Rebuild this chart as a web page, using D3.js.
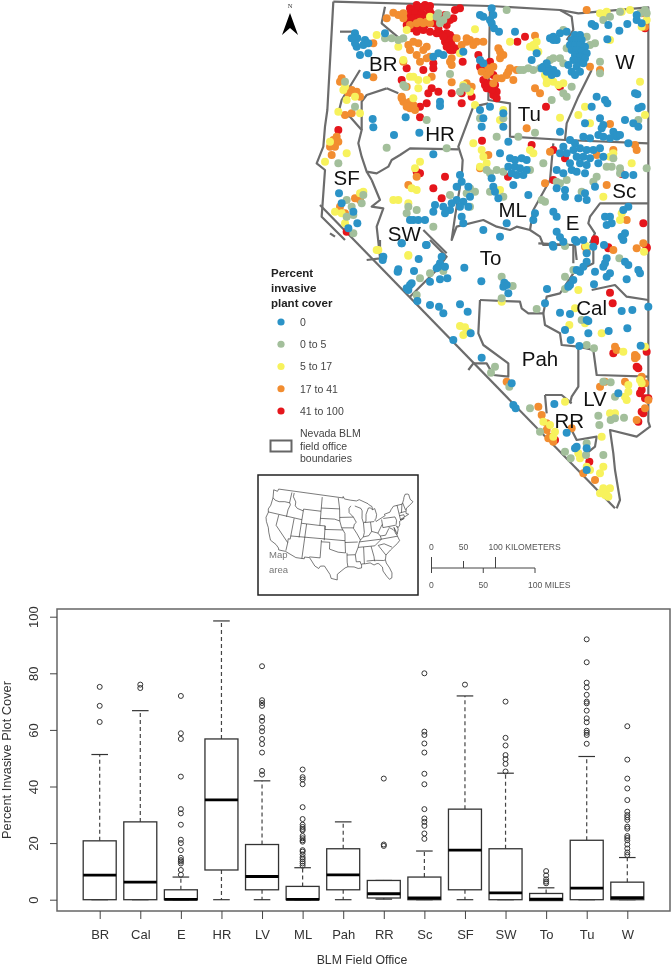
<!DOCTYPE html>
<html><head><meta charset="utf-8">
<script src="https://cdnjs.cloudflare.com/ajax/libs/d3/7.8.5/d3.min.js"></script>
<style>html,body{margin:0;padding:0;background:#fff}svg{display:block;filter:blur(0.35px)}text{font-family:"Liberation Sans",Arial,sans-serif}</style>
</head><body><svg id="c" width="672" height="967"></svg>
<script>
// ---------- box plot data ----------
const offices=["BR","Cal","E","HR","LV","ML","Pah","RR","Sc","SF","SW","To","Tu","W"];
const whiskerLow=[0,0,0,0,0,0,0,0.2,0,0,0,0,0,0];
const quartile1=[0,0,0,10.5,3.5,0,3.5,0.6,0,3.5,0,-0.3,0,0];
const medians=[8.7,6.2,0.1,35.3,8.2,0.1,8.8,2.1,0.6,17.5,2.4,0.2,4.1,0.7];
const quartile3=[20.8,27.5,3.5,56.8,19.5,4.7,18,6.8,8,32,18,2.2,21,6.2];
const whiskerHigh=[51.3,66.8,8,98.5,42,11.3,27.5,6.8,17.2,72,44.7,4.2,50.6,14.9];
const outliers=[
[62.8,68.5,75.2],
[74.8,76],
[8.8,10.5,12.8,13.5,14,14.8,17.5,20,21.2,26.5,30.5,32,43.5,56.8,58.8,72],
[],
[44.2,45.5,52,55,56.8,59.5,60.8,63.2,64.5,68.5,69.5,70.5,82.5],
[12,12.8,13.5,14.3,15,16,17,17.5,20.5,21,21.7,22.5,24.5,25,25.7,26.5,28.5,32.7,40.8,42.5,43.3,46],
[],
[19,19.5,42.8],
[21.5,23.4,26.1,27.5,28.7,32,40.8,44.5,52,55.2,58.2,59.4,80],
[76],
[45.3,48,49.7,51.1,54.5,57.2,70],
[5.8,6.4,7.2,8.6,10.1],
[55.1,58.2,59,59.7,62.7,64.1,66.8,69.4,70,72.4,75,76.7,83.9,92],
[15.8,16.7,18.1,19.5,21,21.8,22.5,25.1,25.8,28.2,29.1,29.9,31.1,35.2,39.3,42.8,49.5,61.3]];
const yTicks=[0,20,40,60,80,100];
// ---------- map data: north sheet units and south sheet units ----------
const blueN=[[630,45],[640,50],[665,25],[670,45],[660,60],[665,70],[672,85],[687,95],[255,100],[262,115],[285,120],[345,100],[260,140],[270,165],[255,130],[280,135],[295,130],[245,115],[290,225],[295,160],[308,357],[310,382],[372,405],[407,352],[448,398],[510,305],[510,318],[630,180],[640,190],[580,155],[520,165],[505,160],[490,170],[735,95],[850,110],[870,100],[860,120],[890,95],[915,105],[930,105],[905,120],[920,120],[935,120],[900,135],[915,135],[930,135],[945,140],[905,150],[920,150],[935,155],[950,160],[915,165],[930,170],[945,175],[925,185],[910,180],[940,190],[920,200],[905,215],[915,225],[930,215],[895,195],[840,115],[850,120],[820,200],[835,205],[850,210],[830,215],[845,225],[860,220],[785,180],[800,160],[830,190],[815,205],[965,72],[975,78],[1015,75],[1072,72],[1048,92],[1012,118],[1100,60],[1115,70],[1100,45],[1095,280],[1102,283],[980,290],[1005,300],[1012,310],[990,355],[1000,375],[1030,395],[995,385],[1040,405],[1065,360],[1090,370],[1105,325],[1115,320],[1105,380],[965,320],[945,370],[870,395],[900,420],[915,430],[940,410],[960,415],[985,405],[1000,410],[1040,410],[1050,405],[1075,430],[1020,415],[880,440],[870,460],[890,460],[910,450],[930,445],[950,450],[970,450],[920,470],[940,470],[960,475],[990,445],[1000,470],[900,490],[930,490],[950,495],[985,490],[905,510],[920,515],[945,520],[880,520],[860,510],[860,565],[885,570],[885,590],[925,595],[945,580],[975,560],[950,600],[1065,525],[1090,525],[1075,620],[1060,630],[1005,650],[1020,650],[1025,670],[1010,675],[1065,700],[1055,710],[1060,720],[850,635],[860,650],[795,640],[790,660],[860,695],[870,712],[880,725],[940,720],[970,740],[850,740],[915,720],[720,475],[735,480],[755,475],[770,480],[715,500],[735,500],[750,505],[770,510],[725,520],[740,525],[760,525],[690,460],[665,535],[670,560],[675,575],[685,595],[730,555],[775,585],[630,330],[640,355],[635,380],[660,320],[700,340],[700,380],[715,425],[710,670],[690,710],[640,690],[490,463],[570,525],[575,545],[560,560],[595,560],[600,590],[560,600],[580,605],[545,610],[520,620],[495,615],[540,630],[525,640],[575,650],[595,620],[580,670],[570,620],[490,635],[430,660],[445,660],[465,660],[420,660],[340,770],[470,735],[515,770],[395,730],[207,580],[215,610],[250,635],[262,670],[235,685]];
const blueS=[[188,60],[235,88],[233,95],[282,93],[296,57],[318,15],[245,10],[360,70],[355,80],[350,85],[375,80],[382,115],[360,118],[330,125],[270,135],[260,145],[265,150],[275,130],[433,83],[484,124],[553,128],[560,135],[565,160],[550,140],[292,183],[330,195],[357,200],[370,220],[420,193],[443,215],[452,280],[400,300],[485,353],[575,430],[580,495],[587,505],[675,190],[681,147],[698,15],[770,5],[800,40],[770,90],[780,95],[790,80],[800,65],[760,120],[750,135],[745,140],[825,95],[822,133],[850,80],[855,70],[870,100],[860,110],[860,55],[915,65],[925,75],[955,90],[960,100],[920,118],[852,15],[720,218],[750,222],[800,240],[805,243],[735,270],[752,300],[778,318],[805,280],[866,273],[922,265],[905,213],[937,210],[985,200],[962,317],[703,492],[740,578],[770,620],[800,625],[765,625],[895,460],[800,690]];
const greenN=[[710,30],[505,40],[530,45],[520,60],[500,50],[510,70],[400,115],[385,120],[365,115],[345,115],[540,222],[580,260],[590,265],[225,245],[255,320],[405,260],[400,255],[570,275],[680,410],[795,398],[530,445],[350,443],[470,360],[630,355],[700,355],[760,210],[775,205],[750,210],[790,210],[810,205],[880,90],[870,175],[880,190],[850,175],[840,180],[890,145],[1020,50],[1050,35],[1125,30],[1110,40],[1130,40],[1000,60],[990,185],[990,220],[950,110],[960,135],[975,130],[1105,360],[905,260],[880,280],[890,290],[845,300],[1130,505],[1010,500],[1025,500],[980,530],[970,545],[935,575],[890,540],[870,550],[860,545],[1050,505],[1050,520],[1030,475],[745,410],[680,510],[700,515],[660,520],[650,510],[660,575],[780,510],[820,490],[700,590],[825,605],[815,600],[600,565],[615,575],[590,580],[540,585],[600,620],[415,620],[440,630],[410,640],[490,680],[250,700],[280,585],[230,600],[245,620],[230,650],[250,645],[275,610],[205,490]];
const greenS=[[735,18],[898,55],[735,147],[545,175],[545,110],[578,138],[300,115],[330,100],[370,93],[290,165],[650,207],[785,240],[800,315],[822,325],[525,380],[513,398],[568,440],[630,505],[660,575],[735,635],[752,655],[850,645],[798,645],[835,527],[838,555],[872,540],[885,535],[912,533],[850,425],[872,427],[885,470],[800,610],[760,90],[735,110]];
const yellowN=[[615,88],[480,50],[320,105],[385,140],[570,160],[420,230],[400,180],[445,240],[470,240],[580,255],[600,275],[800,125],[795,145],[780,140],[825,225],[850,245],[840,240],[865,255],[410,90],[450,485],[435,505],[440,570],[425,565],[385,600],[370,600],[415,610],[220,270],[230,300],[205,335],[270,340],[225,260],[255,290],[1110,245],[870,353],[945,320],[925,345],[960,370],[1125,345],[1020,120],[990,40],[1000,50],[1010,35],[1055,35],[1080,30],[1115,80],[1130,60],[790,135],[805,155],[720,125],[830,235],[830,250],[615,315],[700,330],[690,360],[610,430],[635,450],[640,470],[650,490],[630,500],[780,450],[790,460],[1020,470],[1030,460],[1085,490],[1000,590],[1055,640],[1050,660],[690,570],[320,750],[415,765],[880,250],[430,295],[445,265],[430,230],[180,425],[230,460],[165,485],[215,640],[195,635],[225,670],[270,580],[280,575]];
const yellowS=[[175,30],[265,47],[798,18],[972,35],[775,150],[420,258],[435,262],[430,285],[445,275],[748,255],[795,250],[845,280],[765,205],[545,185],[910,335],[975,320],[735,485],[925,435],[925,455],[915,470],[960,420],[965,430],[870,520],[885,520],[705,575],[700,590],[690,555],[670,545],[845,590],[775,640],[780,655],[800,680],[850,680],[840,700],[850,745],[860,750],[855,765],[865,770],[840,760],[870,745],[810,690],[920,480]];
const orangeN=[[370,38],[400,55],[385,45],[400,40],[440,70],[450,65],[470,65],[445,130],[460,150],[400,185],[590,125],[600,120],[610,135],[470,175],[480,170],[545,175],[590,250],[655,205],[660,215],[680,235],[695,235],[715,215],[690,175],[685,145],[395,290],[400,305],[420,305],[420,325],[435,330],[245,270],[235,280],[270,290],[420,75],[460,70],[350,55],[480,70],[590,115],[560,115],[620,125],[640,125],[575,135],[540,185],[545,195],[415,135],[430,125],[420,150],[440,165],[470,140],[450,185],[410,260],[395,295],[410,320],[430,315],[225,345],[245,340],[215,235],[210,245],[260,275],[310,232],[310,130],[485,230],[545,247],[605,260],[635,215],[650,225],[670,200],[690,155],[700,165],[720,205],[740,210],[730,240],[710,225],[670,250],[795,265],[810,280],[795,107],[770,385],[1020,372],[960,200],[990,210],[950,30],[1115,40],[1125,80],[840,455],[1100,450],[1095,435],[1030,450],[980,465],[1010,555],[825,550],[655,465],[630,505],[415,555],[440,530],[200,410],[205,425],[190,420],[180,440],[195,440],[185,465],[255,595],[270,600],[210,620],[225,640],[1070,660],[1100,745],[945,740],[950,755]];
const orangeS=[[970,10],[880,30],[885,320],[890,330],[945,345],[945,355],[950,350],[855,425],[840,440],[915,425],[560,425],[655,500],[665,525],[680,550],[680,570],[690,590],[700,605],[685,595],[755,565],[790,700],[825,720],[975,430],[985,480],[975,505],[950,540],[965,410]];
const redN=[[420,25],[440,15],[465,15],[480,18],[415,55],[450,75],[465,75],[490,70],[420,70],[435,75],[500,100],[510,100],[540,105],[550,115],[525,125],[550,150],[555,145],[630,200],[635,210],[650,210],[645,255],[660,265],[675,255],[680,275],[670,285],[430,30],[445,25],[460,20],[475,25],[420,40],[435,40],[455,40],[470,45],[430,55],[445,55],[460,55],[480,35],[490,45],[410,75],[425,85],[440,95],[460,90],[480,95],[505,85],[530,75],[510,60],[525,45],[540,60],[550,55],[555,30],[570,25],[530,100],[535,120],[545,135],[540,150],[530,140],[520,110],[490,190],[490,205],[460,210],[410,205],[395,240],[485,265],[475,280],[505,275],[545,280],[575,280],[605,290],[575,310],[450,320],[470,310],[450,352],[578,185],[625,165],[660,185],[665,200],[640,240],[655,250],[650,265],[665,270],[680,295],[670,225],[742,125],[765,110],[828,320],[636,422],[205,390],[714,530],[850,540],[1055,522],[885,475],[785,435],[850,450],[1120,670],[1130,745],[975,718],[1015,745],[440,515],[450,520],[525,530],[490,565],[515,595],[870,260],[230,695],[1125,85]];
const redS=[[980,22],[825,5],[865,22],[870,158],[878,190],[880,340],[950,380],[955,385],[980,335],[965,450],[975,475],[960,460],[985,475],[965,515],[970,520],[955,545],[808,665],[705,600]];
const boundariesN=[
[[190,5],[660,18],[870,30],[925,40],[1135,22],[1135,720]],
[[190,5],[172,330],[165,380],[160,440],[140,490],[165,510],[155,650],[225,720]],
[[345,20],[335,70],[400,125]],[[210,95],[260,95]],
[[205,340],[240,350],[275,390],[265,430],[275,470],[290,515],[320,520],[355,500],[365,480],[390,465],[420,445],[565,448]],
[[350,265],[290,285],[275,305],[275,390]],[[350,265],[385,280]],[[205,340],[215,300],[270,210]],
[[610,320],[565,440],[578,480],[575,530],[555,650],[545,720],[560,680],[640,660],[680,680],[720,690],[740,680],[780,690]],
[[610,320],[655,310]],[[660,20],[655,300],[720,310],[720,410],[885,420],[1135,430]],
[[870,30],[905,50],[910,90],[890,120]],[[965,210],[925,290],[890,370],[885,420]],
[[850,430],[840,540],[790,630],[780,690],[810,710],[820,735],[915,735],[920,780]],
[[1135,610],[990,610],[960,650],[955,670],[975,700],[960,730]],
[[305,540],[330,600],[305,620],[340,625],[320,680],[330,770]],[[290,515],[305,540]],
[[460,690],[530,760]],[[180,700],[195,710]]];
const boundariesS=[
[[0,-105],[885,805]],
[[985,0],[985,545],[990,560],[950,590],[870,570],[880,640],[885,690],[900,780],[890,805]],
[[180,0],[180,55],[140,60]],[[330,0],[380,50],[350,90],[270,170]],
[[480,180],[600,185],[605,205],[625,220],[670,220],[675,255],[720,280],[725,315],[775,320],[775,440],[755,470],[750,490]],
[[480,180],[475,280],[490,315],[565,370],[565,410],[520,405],[500,370],[460,370],[445,390]],
[[675,465],[725,465],[755,490]],[[675,465],[680,520]],
[[750,560],[770,600],[830,590],[825,620],[800,640]],
[[670,220],[680,170],[720,160],[760,100],[820,70],[820,0]],[[815,150],[885,135],[920,170],[985,180]],
[[775,320],[820,330],[830,405],[985,410]],[[655,10],[760,15],[760,70]]];
const mapLabelsN=[["BR",340,190],["HR",510,400],["Tu",778,340],["W",1065,185],["SF",230,532],["Sc",1063,572],["ML",728,630],["E",908,667],["SW",403,700]];
const mapLabelsS=[["To",512,52],["Cal",815,203],["Pah",660,355],["LV",825,475],["RR",748,543]];
const legendLabels=["0","0 to 5","5 to 17","17 to 41","41 to 100"];
const legendColors=["#2b93c7","#a3bf9b","#f7f25c","#f28d30","#e5161c"];
const legendTitle=["Percent","invasive","plant cover"];
const legendBoundary=["Nevada BLM","field office","boundaries"];
const kmTicks=[0,50,100], mileTicks=[0,50,100];
// US inset, lon/lat
const usOutline=[[-124.7,48.4],[-123,48.3],[-122.8,49],[-95.2,49],[-95.1,49.4],[-94.6,48.7],[-92,48.3],[-89.6,48],[-88.4,48.3],[-84.9,46.9],[-84.5,46.5],[-83.5,46],[-83.4,45.1],[-82.5,45.3],[-82.1,43.6],[-82.5,42.6],[-83.1,42.1],[-82.7,41.7],[-78.9,42.9],[-79.1,43.3],[-76.8,43.6],[-76.2,44.2],[-75,45],[-71.5,45],[-71.1,45.3],[-70.3,46.2],[-70,46.7],[-69.2,47.45],[-68.3,47.35],[-67.8,47.1],[-67.8,45.7],[-67,44.8],[-69,44],[-70.2,43.6],[-70.7,42.7],[-70.9,42.2],[-70,41.8],[-71.2,41.5],[-73.7,40.9],[-72,41],[-74,40.5],[-74.2,39.5],[-75,38.9],[-75.5,39.5],[-75.1,38.5],[-75.9,37.1],[-76.2,38.5],[-76.5,39.2],[-76.4,37.5],[-76,36.9],[-75.5,35.3],[-76.5,34.6],[-77.9,33.9],[-79.2,33.2],[-81,32],[-81.4,30.7],[-81.3,29.8],[-80.5,28.3],[-80,26.8],[-80.3,25.4],[-81.1,25.1],[-81.8,26.1],[-82.7,27.7],[-82.7,28.8],[-83.7,29.9],[-84.3,30],[-85.3,29.7],[-86.5,30.4],[-88,30.3],[-89.3,30.3],[-89.4,29.2],[-90.5,29.1],[-91.8,29.6],[-93.8,29.7],[-94.7,29.4],[-96,28.5],[-97.2,27.6],[-97.2,26],[-99.1,26.4],[-99.5,27.5],[-101.4,29.8],[-102.7,29.7],[-103.2,29],[-104.5,29.6],[-106.5,31.8],[-108.2,31.8],[-108.2,31.3],[-111,31.3],[-114.8,32.5],[-117.1,32.5],[-117.3,33],[-118.4,33.8],[-120.6,34.6],[-121.9,36.6],[-122.5,37.8],[-123.8,39.3],[-124.4,40.4],[-124.1,41.9],[-124.5,42.8],[-124,44],[-124,46.2],[-124.7,48.4]];
const usBorders=[[[-124,46.2],[-122.9,45.7],[-121.2,45.6],[-119,46],[-116.9,46]],[[-117,49],[-117,46]],[[-116.9,46],[-116.5,45.5],[-117,44],[-117,42]],[[-124.2,42],[-111,42]],[[-116,49],[-116,47.9],[-114.6,46.6],[-114.5,45.5],[-113.5,44.9],[-111,44.5]],[[-111,45],[-104,45],[-104,41],[-111,41],[-111,45]],[[-104,49],[-104,45]],[[-104,45.9],[-96.6,45.9]],[[-104,43],[-98.5,43],[-96.5,42.5]],[[-104,41],[-102,41],[-102,40]],[[-114,42],[-114,37]],[[-111,41],[-111,37]],[[-109,41],[-109,37]],[[-102,41],[-102,37]],[[-102,40],[-95.3,40]],[[-120,42],[-120,39],[-114.6,35]],[[-114,37],[-114,36.1],[-114.7,36.1],[-114.6,35],[-114.7,32.7]],[[-114,37],[-94.6,37]],[[-109,37],[-109,31.3]],[[-103,37],[-103,32],[-106.6,32]],[[-103,36.5],[-100,36.5],[-100,34.6],[-97,33.8],[-94.5,33.6]],[[-94.6,37],[-94.5,33.6]],[[-94,33.6],[-94,31],[-93.8,29.7]],[[-94,33],[-91.2,33]],[[-91.2,33],[-91,31],[-89.7,31],[-89.5,30.2]],[[-91.2,33],[-90.1,35],[-89.5,36.5],[-89.1,37],[-90.2,38.8],[-91.4,40.4],[-91,41.5],[-90.2,42],[-91.2,43.5],[-92.8,44.8],[-92.8,46],[-92,46.7]],[[-96.5,43.5],[-91.2,43.5]],[[-96.6,45.9],[-96.8,47],[-97.2,49]],[[-96.6,45.9],[-96.5,42.5]],[[-95.8,40.6],[-91.4,40.5]],[[-96.5,42.5],[-95.8,40.6],[-95.3,40],[-94.6,39],[-94.6,37]],[[-94.6,36.5],[-90.1,36.5]],[[-90.1,35],[-84.3,35],[-81.7,36.6]],[[-89.5,36.5],[-81.7,36.6],[-75.9,36.6]],[[-88.2,35],[-88.4,30.3]],[[-85.6,35],[-85,32],[-85,31],[-84.9,30.7]],[[-87.6,31],[-85,31],[-82,30.6],[-81.5,30.7]],[[-83.1,35],[-81,32]],[[-83.1,35],[-81,35.2],[-78.5,33.9]],[[-87.5,41.7],[-87.5,39],[-88,37.8]],[[-84.8,41.7],[-84.8,39.1]],[[-89.1,37],[-88,37.8],[-86,38],[-84.8,39.1],[-82.6,38.4],[-80.6,40.6]],[[-82.6,38.4],[-81.9,37.5],[-81.7,36.6]],[[-81.9,37.5],[-80,37.5],[-78.4,39.2]],[[-80.5,42],[-80.5,39.7],[-75.7,39.7]],[[-79.8,42.2],[-75.3,42],[-75,41],[-75.5,39.8]],[[-78.4,39.5],[-77,38.7],[-76.4,38]],[[-73.5,45],[-73.5,41]],[[-73.5,42.05],[-71.8,42]],[[-71.8,42],[-71.8,41.4]],[[-71.5,45],[-72.5,42.75]],[[-73.3,42.75],[-70.8,42.8]],[[-71.1,45.3],[-70.7,43.1]],[[-90.4,46.6],[-88,45.8],[-87.6,45.1],[-87.9,43],[-87.5,41.7],[-86.5,42],[-86.2,44],[-85,45.7],[-84.3,45.7],[-83.4,45.1]],[[-87,41.75],[-83.4,41.73]]];

// ---------- scales ----------
const svg=d3.select("#c");
const xN=d3.scaleLinear().domain([0,1206]).range([270,672]);
const yN=d3.scaleLinear().domain([0,780]).range([0,260]);
const xS=d3.scaleLinear().domain([0,1056]).range([320,672]);
const yS=d3.scaleLinear().domain([0,840]).range([240,520]);
const pN=d=>[xN(d[0]),yN(d[1])], pS=d=>[xS(d[0]),yS(d[1])];
const line=d3.line();

// ---------- map ----------
const gMap=svg.append("g");
gMap.selectAll("path.b").data(boundariesN.map(l=>l.map(pN)).concat(boundariesS.map(l=>l.map(pS)))).join("path")
 .attr("d",line).attr("fill","none").attr("stroke","#6c6c6c").attr("stroke-width",2.2).attr("stroke-linejoin","round");
const classes=[[redN,redS,4],[orangeN,orangeS,3],[yellowN,yellowS,2],[greenN,greenS,1],[blueN,blueS,0]];
classes.forEach(([n,s,ci])=>{
 gMap.append("g").attr("fill",legendColors[ci]).selectAll("circle").data(n.map(pN).concat(s.map(pS))).join("circle")
  .attr("cx",d=>d[0]).attr("cy",d=>d[1]).attr("r",4);
});
gMap.selectAll("text.lab").data(mapLabelsN.map(d=>[d[0],...pN([d[1],d[2]])]).concat(mapLabelsS.map(d=>[d[0],...pS([d[1],d[2]])]))).join("text")
 .attr("x",d=>d[1]).attr("y",d=>d[2]).attr("dy","0.36em").attr("text-anchor","middle").attr("font-size",20.5).attr("fill","#111").text(d=>d[0]);

// north arrow
const arrow=svg.append("g");
arrow.append("path").attr("d",line([[290,13],[298,35],[290,28],[282,35]])+"Z").attr("fill","#000");
arrow.append("text").attr("x",290).attr("y",8).attr("text-anchor","middle").attr("font-size",6.5).attr("fill","#333").style("font-family","Liberation Serif").text("N");

// ---------- legend ----------
const leg=svg.append("g");
leg.selectAll("text.t").data(legendTitle).join("text").attr("x",271).attr("y",(d,i)=>277+i*15)
 .attr("font-size",11.5).attr("font-weight","bold").attr("fill","#222").text(d=>d);
const legY=d3.scalePoint().domain(legendLabels).range([322,411]);
leg.selectAll("circle").data(legendLabels).join("circle").attr("cx",281).attr("cy",d=>legY(d)).attr("r",3.6).attr("fill",(d,i)=>legendColors[i]);
leg.selectAll("text.l").data(legendLabels).join("text").attr("x",300).attr("y",d=>legY(d)).attr("dy","0.36em")
 .attr("font-size",10.5).attr("fill","#444").text(d=>d);
leg.append("rect").attr("x",270.5).attr("y",440.5).attr("width",21).attr("height",11).attr("fill","none").attr("stroke","#666").attr("stroke-width",2);
leg.selectAll("text.n").data(legendBoundary).join("text").attr("x",300).attr("y",(d,i)=>437+i*12.5)
 .attr("font-size",10.5).attr("fill","#444").text(d=>d);

// ---------- inset ----------
const inset=svg.append("g");
inset.append("rect").attr("x",258).attr("y",475).attr("width",160).attr("height",120).attr("fill","#fff").attr("stroke","#222").attr("stroke-width",1.5);
const usGeo={type:"MultiLineString",coordinates:[usOutline].concat(usBorders)};
const proj=d3.geoConicEqualArea().parallels([29.5,45.5]).rotate([96,0]).center([0,37.5]).fitExtent([[266,488],[413,581]],{type:"LineString",coordinates:usOutline});
inset.append("path").attr("d",d3.geoPath(proj)(usGeo)).attr("fill","none").attr("stroke","#222").attr("stroke-width",0.6);
inset.selectAll("text").data(["Map","area"]).join("text").attr("x",269).attr("y",(d,i)=>558+i*14.5).attr("font-size",9.5).attr("fill","#777").text(d=>d);

// ---------- scale bar ----------
const sb=svg.append("g");
const kmS=d3.scaleLinear().domain([0,100]).range([431.5,495.5]);
const miS=d3.scaleLinear().domain([0,100]).range([431.5,535]);
sb.append("line").attr("x1",431.5).attr("x2",535).attr("y1",568).attr("y2",568).attr("stroke","#444").attr("stroke-width",1);
sb.selectAll("line.k").data(kmTicks).join("line").attr("x1",d=>kmS(d)).attr("x2",d=>kmS(d)).attr("y1",568).attr("y2",d=>d===50?561:557).attr("stroke","#444");
sb.append("g").selectAll("line").data(mileTicks).join("line").attr("x1",d=>miS(d)).attr("x2",d=>miS(d)).attr("y1",568).attr("y2",573).attr("stroke","#444");
sb.append("g").selectAll("text").data(kmTicks).join("text").attr("x",d=>kmS(d)).attr("y",550).attr("text-anchor",d=>d===100?"start":"middle").attr("dx",d=>d===100?-7:0)
 .attr("font-size",8.6).attr("fill","#555").text(d=>d===100?"100 KILOMETERS":d);
sb.append("g").selectAll("text").data(mileTicks).join("text").attr("x",d=>miS(d)).attr("y",588).attr("text-anchor",d=>d===100?"start":"middle").attr("dx",d=>d===100?-7:0)
 .attr("font-size",8.6).attr("fill","#555").text(d=>d===100?"100 MILES":d);

// ---------- box plot ----------
const x=d3.scalePoint().domain(offices).range([99.7,627.3]);
const y=d3.scaleLinear().domain([0,100]).range([899.7,616.7]);
const gb=svg.append("g");
gb.append("rect").attr("x",57).attr("y",609).attr("width",613).attr("height",302).attr("fill","none").attr("stroke","#666").attr("stroke-width",1.5);
const gy=gb.append("g").attr("transform","translate(57,0)").call(d3.axisLeft(y).tickValues(yTicks).tickSize(7).tickFormat(d3.format("d")));
gy.select(".domain").remove();
gy.selectAll("line").attr("stroke","#444");
gy.selectAll("text").attr("x",null).attr("dy",null).attr("text-anchor","middle").attr("transform","translate(-19,0) rotate(-90)")
 .attr("font-size",13).attr("fill","#333").style("font-family","Liberation Sans");
const gx=gb.append("g").attr("transform","translate(0,911)").call(d3.axisBottom(x).tickSize(8).tickPadding(11));
gx.select(".domain").remove();
gx.selectAll("line").attr("stroke","#444");
gx.selectAll("text").attr("font-size",13).attr("fill","#333").style("font-family","Liberation Sans");
const rows=offices.map((o,i)=>({o,lo:whiskerLow[i],q1:quartile1[i],m:medians[i],q3:quartile3[i],hi:whiskerHigh[i],out:outliers[i]}));
const bx=gb.selectAll("g.box").data(rows).join("g").attr("class","box");
bx.append("line").attr("x1",d=>x(d.o)).attr("x2",d=>x(d.o)).attr("y1",d=>y(d.q3)).attr("y2",d=>y(d.hi)).attr("stroke","#444").attr("stroke-width",1.2).attr("stroke-dasharray","4 3");
bx.append("line").attr("x1",d=>x(d.o)).attr("x2",d=>x(d.o)).attr("y1",d=>y(d.q1)).attr("y2",d=>y(d.lo)).attr("stroke","#444").attr("stroke-width",1.2).attr("stroke-dasharray","4 3");
["hi","lo"].forEach(k=>bx.append("line").attr("x1",d=>x(d.o)-8.3).attr("x2",d=>x(d.o)+8.3).attr("y1",d=>y(d[k])).attr("y2",d=>y(d[k])).attr("stroke","#333").attr("stroke-width",1.2));
bx.append("rect").attr("x",d=>x(d.o)-16.5).attr("width",33).attr("y",d=>y(d.q3)).attr("height",d=>y(d.q1)-y(d.q3)).attr("fill","#fff").attr("stroke","#333").attr("stroke-width",1.3);
bx.append("line").attr("x1",d=>x(d.o)-16.5).attr("x2",d=>x(d.o)+16.5).attr("y1",d=>y(d.m)).attr("y2",d=>y(d.m)).attr("stroke","#000").attr("stroke-width",2.8);
bx.selectAll("circle").data(d=>d.out.map(v=>({o:d.o,v}))).join("circle").attr("cx",d=>x(d.o)).attr("cy",d=>y(d.v)).attr("r",2.5).attr("fill","none").attr("stroke","#333").attr("stroke-width",1);
gb.append("text").attr("transform","translate(11,760) rotate(-90)").attr("text-anchor","middle").attr("font-size",12.8).attr("fill","#333").text("Percent Invasive Plot Cover");
gb.append("text").attr("x",362).attr("y",964).attr("text-anchor","middle").attr("font-size",12.3).attr("fill","#333").text("BLM Field Office");
</script></body></html>
